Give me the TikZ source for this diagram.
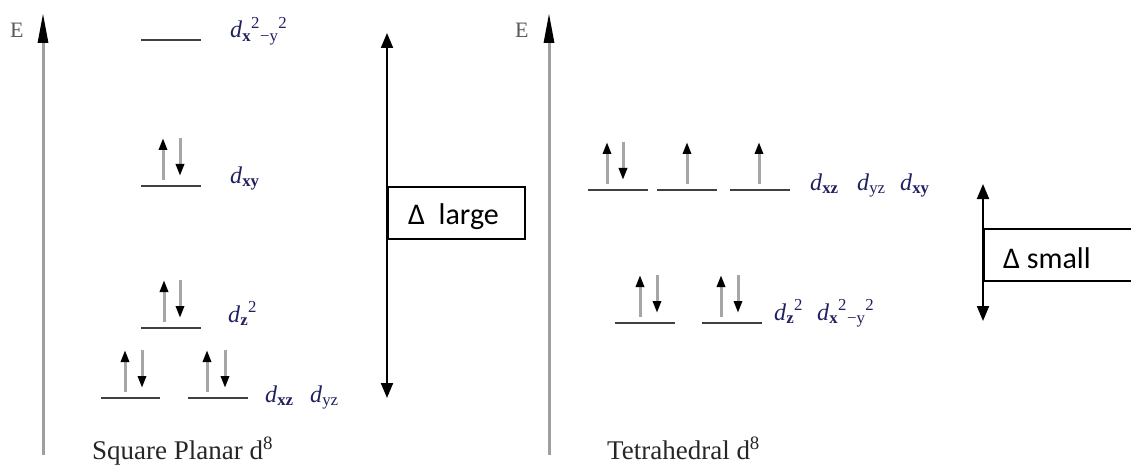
\documentclass[tikz,border=0pt]{standalone}
\usepackage{fontspec}
\setmainfont{Liberation Serif}
\newfontfamily\calibri{Carlito}
\usetikzlibrary{arrows.meta}
\definecolor{navy}{RGB}{32,32,96}
\newcommand\orbd{\textit{d}}

\tikzset{
  axis/.style={line width=3pt, gray!75, -{Triangle[length=30pt,width=10pt,color=black]}},
  level/.style={line width=2pt, draw=black!75},
  spin/.style={line width=3pt, gray!70, -{Triangle[length=12pt,width=8pt,color=black]}},
  gap/.style={line width=2pt, {Triangle[length=15pt,width=12pt]}-{Triangle[length=15pt,width=12pt]}},
  gapbox/.style={draw, line width=1.5pt, fill=white, anchor=north west, minimum height=52pt, inner sep=0pt},
  gaptext/.style={font=\calibri\fontsize{30}{32}\selectfont, anchor=base west, inner sep=0pt},
  orb/.style={text=navy, font=\fontsize{24}{26}\selectfont, anchor=base west, inner sep=0pt},
  elabel/.style={text=black!65, font=\fontsize{22}{24}\selectfont, anchor=base west, inner sep=0pt},
  caption/.style={text=black!85, font=\fontsize{27}{30}\selectfont, anchor=base west, inner sep=0pt}
}

\begin{document}
\begin{tikzpicture}[x=1pt,y=-1pt]
\clip (0,0) rectangle (1131,465);

% energy axes
\coordinate (ebotL) at (43,455);
\coordinate (etopL) at (43,13);
\coordinate (ebotR) at (549,455);
\coordinate (etopR) at (549,13);
\draw[axis] (ebotL) -- (etopL);
\draw[axis] (ebotR) -- (etopR);
\node[elabel] (EL) at (10,38) {E};
\node[elabel] (ER) at (515,38) {E};

% square planar levels
\draw[level] (141,40) -- (201,40);
\draw[level] (141,186) -- (201,186);
\draw[level] (141,328) -- (201,328);
\draw[level] (101,398) -- (160,398);
\draw[level] (188,398) -- (248,398);

% tetrahedral levels
\draw[level] (588,190) -- (648,190);
\draw[level] (657,190) -- (717,190);
\draw[level] (730,190) -- (790,190);
\draw[level] (615,323) -- (675,323);
\draw[level] (702,323) -- (762,323);

% electrons
\foreach \x/\y in {163/186, 164/328, 125/398, 207/398, 607/190, 687/190, 759/190, 640/323, 721/323}
  \draw[spin] (\x,\y-6) -- (\x,\y-48);
\foreach \x/\y in {180/186, 180/328, 142/398, 225/398, 623/190, 657/323, 738/323}
  \draw[spin] (\x,\y-48) -- (\x,\y-10);

% orbital labels
\node[orb] (dx2y2L) at (230,38) {\orbd\textsubscript{\textbf{x}}\textsuperscript{2}\textsubscript{−y}\textsuperscript{2}};
\node[orb] (dxyL) at (230,183) {\orbd\textsubscript{\textbf{xy}}};
\node[orb] (dz2L) at (228,322) {\orbd\textsubscript{\textbf{z}}\textsuperscript{2}};
\node[orb] (dxzL) at (265,402) {\orbd\textsubscript{\textbf{xz}}};
\node[orb] (dyzL) at (310,402) {\orbd\textsubscript{yz}};
\node[orb] (dxzR) at (810,190) {\orbd\textsubscript{\textbf{xz}}};
\node[orb] (dyzR) at (857,190) {\orbd\textsubscript{yz}};
\node[orb] (dxyR) at (900,190) {\orbd\textsubscript{\textbf{xy}}};
\node[orb] (dz2R) at (774,320) {\orbd\textsubscript{\textbf{z}}\textsuperscript{2}};
\node[orb] (dx2y2R) at (817,320) {\orbd\textsubscript{\textbf{x}}\textsuperscript{2}\textsubscript{−y}\textsuperscript{2}};

% splitting
\coordinate (lgtop) at (387,33);
\coordinate (lgbot) at (387,398);
\draw[gap] (lgtop) -- (lgbot);
\node[gapbox, minimum width=137pt] (largebox) at (387,186) {};
\node[gaptext] (largetxt) at (408,224) {Δ\ \ large};

\coordinate (smtop) at (983,184);
\coordinate (smbot) at (983,321);
\draw[gap] (smtop) -- (smbot);
\node[gapbox, minimum width=170pt] (smallbox) at (983,228) {};
\node[gaptext] (smalltxt) at (1003,268) {Δ small};

% captions
\node[caption] (sqpl) at (92,459) {Square Planar d\textsuperscript{8}};
\node[caption] (tetra) at (607,459) {Tetrahedral d\textsuperscript{8}};
\end{tikzpicture}
\end{document}
